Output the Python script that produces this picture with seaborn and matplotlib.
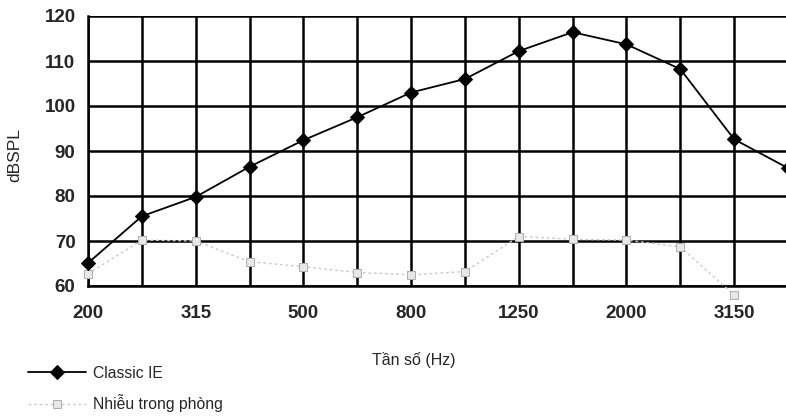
import numpy as np
import pandas as pd
import matplotlib
matplotlib.use("Agg")
import matplotlib.pyplot as plt
import seaborn as sns

# Data
freqs = ["200", "250", "315", "400", "500", "630", "800", "1000",
         "1250", "1600", "2000", "2500", "3150", "4000"]
classic_ie = [65.1, 75.5, 79.8, 86.5, 92.4, 97.5, 103, 106,
              112.2, 116.4, 113.7, 108.2, 92.6, 86.2]
room_noise = [62.7, 70.2, 70.0, 65.4, 64.3, 63.0, 62.5, 63.2,
              71.0, 70.4, 70.2, 68.7, 58.0, np.nan]
tick_labels = ["200", "315", "500", "800", "1250", "2000", "3150"]

sns.set_style("white")
plt.rcParams["font.family"] = ["Liberation Sans", "DejaVu Sans"]

df = pd.DataFrame({"pos": np.arange(len(freqs)),
                   "classic": classic_ie,
                   "noise": room_noise})

fig = plt.figure(figsize=(7.86, 4.16), dpi=100)
ax = fig.add_axes([88 / 786, 1 - 286 / 416, 700 / 786, 270 / 416])

sns.lineplot(data=df, x="pos", y="classic", ax=ax, color="black", lw=1.3,
             marker="D", markersize=7, markeredgecolor="black",
             label="Classic IE", zorder=4, clip_on=False)
sns.lineplot(data=df.dropna(), x="pos", y="noise", ax=ax, color="#cccccc",
             lw=1.0, linestyle=(0, (2, 2)), marker="s", markersize=6,
             markerfacecolor="#e8e8e8", markeredgecolor="#b0b0b0",
             label="Nhiễu trong phòng", zorder=3, clip_on=False)

ax.set_xlim(0, 13)
ax.set_ylim(60, 120)
ax.set_xticks(np.arange(len(freqs)))
ax.set_xticklabels([f if f in tick_labels else "" for f in freqs])
ax.set_yticks(np.arange(60, 121, 10))
ax.grid(True, color="black", lw=1.8)
ax.set_axisbelow(True)
for side in ["top", "right"]:
    ax.spines[side].set_visible(False)
for side in ["left", "bottom"]:
    ax.spines[side].set_color("black")
    ax.spines[side].set_linewidth(1.8)

ax.tick_params(axis="both", length=0, labelsize=13.5)
ax.tick_params(axis="x", pad=14)
ax.tick_params(axis="y", pad=9)
for lbl in ax.get_xticklabels() + ax.get_yticklabels():
    lbl.set_fontweight("bold")

ax.set_xlabel("")
ax.set_ylabel("dBSPL", fontsize=12.5)
ax.yaxis.set_label_coords(-(88 - 22) / 700, 0.485)
fig.text(372 / 786, 1 - 360 / 416, "Tần số (Hz)", fontsize=11.5,
         ha="left", va="center")

ax.legend_.remove()
handles, labels = ax.get_legend_handles_labels()
fig.legend(handles, labels, loc="lower left", bbox_to_anchor=(0.018, -0.025),
           frameon=False, fontsize=11.3, handlelength=3.7,
           handletextpad=0.45, labelspacing=0.85)

fig.savefig("out.png", dpi=100)
